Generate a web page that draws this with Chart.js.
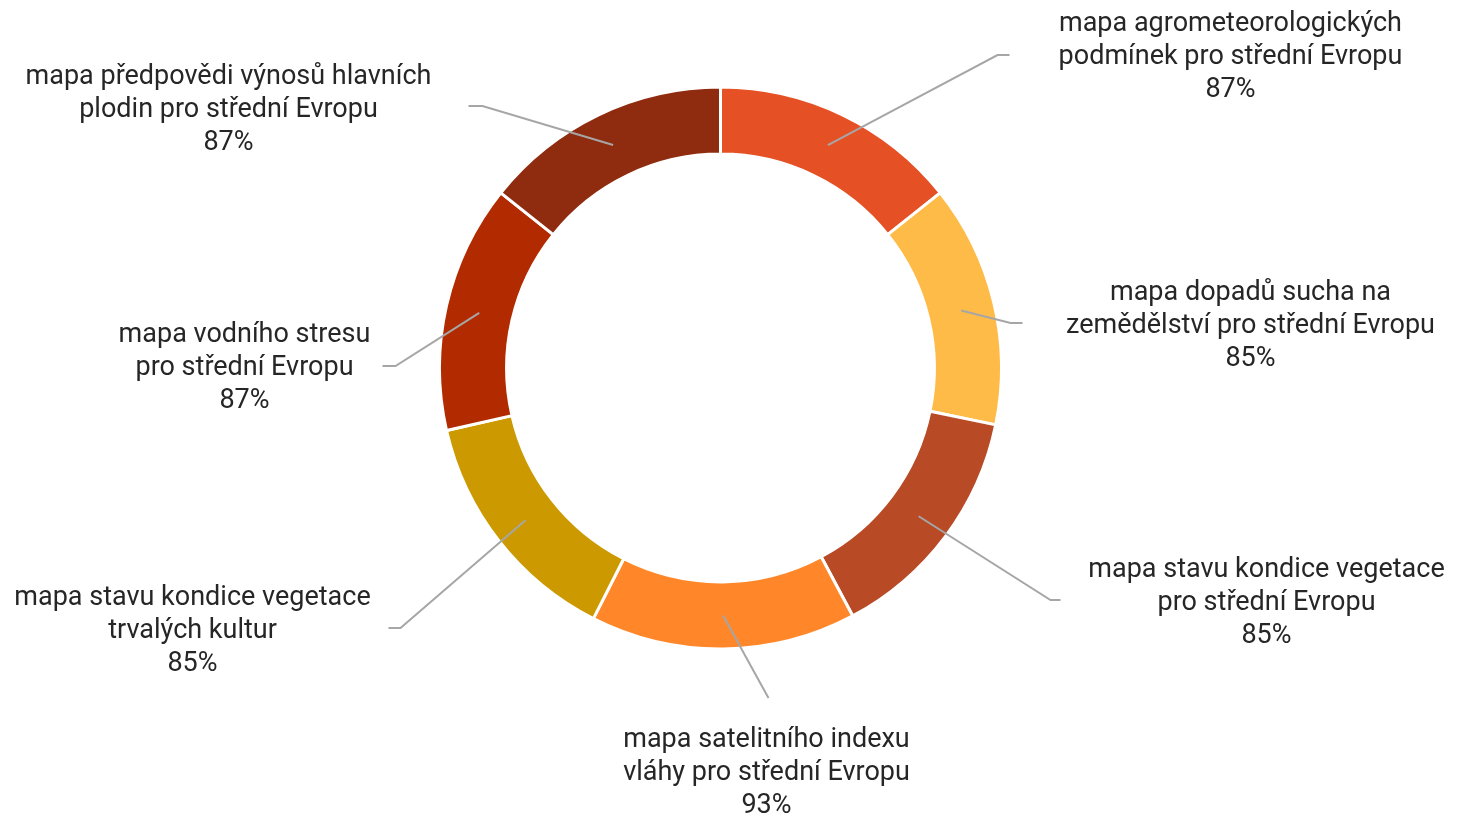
<!DOCTYPE html>
<html>
<head>
<meta charset="utf-8">
<script src="https://cdn.jsdelivr.net/npm/chart.js@4/dist/chart.umd.min.js"></script>
<style>
html,body{margin:0;padding:0;background:#fff;}
#wrap{width:1464px;height:816px;position:relative;}
</style>
</head>
<body>
<div id="wrap"><canvas id="c" width="1464" height="816"></canvas></div>
<script>
// ---- data ----
const categories = [
  ["mapa agrometeorologických", "podmínek pro střední Evropu"],
  ["mapa dopadů sucha na", "zemědělství pro střední Evropu"],
  ["mapa stavu kondice vegetace", "pro střední Evropu"],
  ["mapa satelitního indexu", "vláhy pro střední Evropu"],
  ["mapa stavu kondice vegetace", "trvalých kultur"],
  ["mapa vodního stresu", "pro střední Evropu"],
  ["mapa předpovědi výnosů hlavních", "plodin pro střední Evropu"]
];
const values = [87, 85, 85, 93, 85, 87, 87];
const colors = ["#E55025", "#FFBB47", "#B84A26", "#FF8729", "#CC9A00", "#B22B00", "#8F2B0E"];

// ---- label layout (offsets relative to chart centre) ----
const labelLayout = [
  {ex: 277, ey: -313, tail: 12,  cx: 510, cy: -311, mode: "mid"},
  {ex: 290, ey: -45,  tail: 12,  cx: 530, cy: -42,  mode: "mid"},
  {ex: 330, ey: 232,  tail: 10,  cx: 546, cy: 235,  mode: "mid"},
  {ex: 48,  ey: 330,  tail: 0,   cx: 46,  cy: 372,  mode: "top"},
  {ex: -320,ey: 260,  tail: -12, cx: -528,cy: 263,  mode: "mid"},
  {ex: -325,ey: -2,   tail: -13, cx: -476,cy: 0,    mode: "mid"},
  {ex: -238,ey: -262, tail: -14, cx: -492,cy: -258, mode: "mid"}
];

const LINE_H = 33;
const labelPlugin = {
  id: 'outLabels',
  afterDatasetsDraw(chart) {
    const ctx = chart.ctx;
    const meta = chart.getDatasetMeta(0);
    ctx.save();
    meta.data.forEach((arc, i) => {
      const p = arc.getProps(['x','y','startAngle','endAngle','innerRadius','outerRadius'], true);
      const mid = (p.startAngle + p.endAngle) / 2;
      const r = (p.innerRadius + p.outerRadius) / 2;
      const ax = p.x + Math.cos(mid) * r;
      const ay = p.y + Math.sin(mid) * r;
      const L = labelLayout[i];
      const ex = p.x + L.ex, ey = p.y + L.ey;
      ctx.strokeStyle = '#A6A6A6';
      ctx.lineWidth = 2;
      ctx.beginPath();
      ctx.moveTo(ax, ay);
      ctx.lineTo(ex, ey);
      if (L.tail) ctx.lineTo(ex + L.tail, ey);
      ctx.stroke();
      const lines = categories[i].concat([values[i] + '%']);
      ctx.fillStyle = '#262626';
      ctx.font = '27px Roboto';
      ctx.textAlign = 'center';
      ctx.textBaseline = 'middle';
      const cx = p.x + L.cx;
      const startY = L.mode === 'top' ? p.y + L.cy : p.y + L.cy - LINE_H;
      lines.forEach((t, k) => ctx.fillText(t, cx, startY + k * LINE_H));
    });
    ctx.restore();
  }
};

new Chart(document.getElementById('c'), {
  type: 'doughnut',
  data: {
    labels: categories.map(l => l.join(' ')),
    datasets: [{
      data: values,
      backgroundColor: colors,
      borderColor: '#ffffff',
      borderWidth: 3,
      hoverOffset: 0
    }]
  },
  options: {
    responsive: false,
    animation: false,
    radius: 281,
    cutout: 212,
    layout: {padding: {top: 88, bottom: 168, left: 0, right: 23}},
    plugins: {legend: {display: false}, tooltip: {enabled: false}}
  },
  plugins: [labelPlugin]
});
</script>
</body>
</html>
